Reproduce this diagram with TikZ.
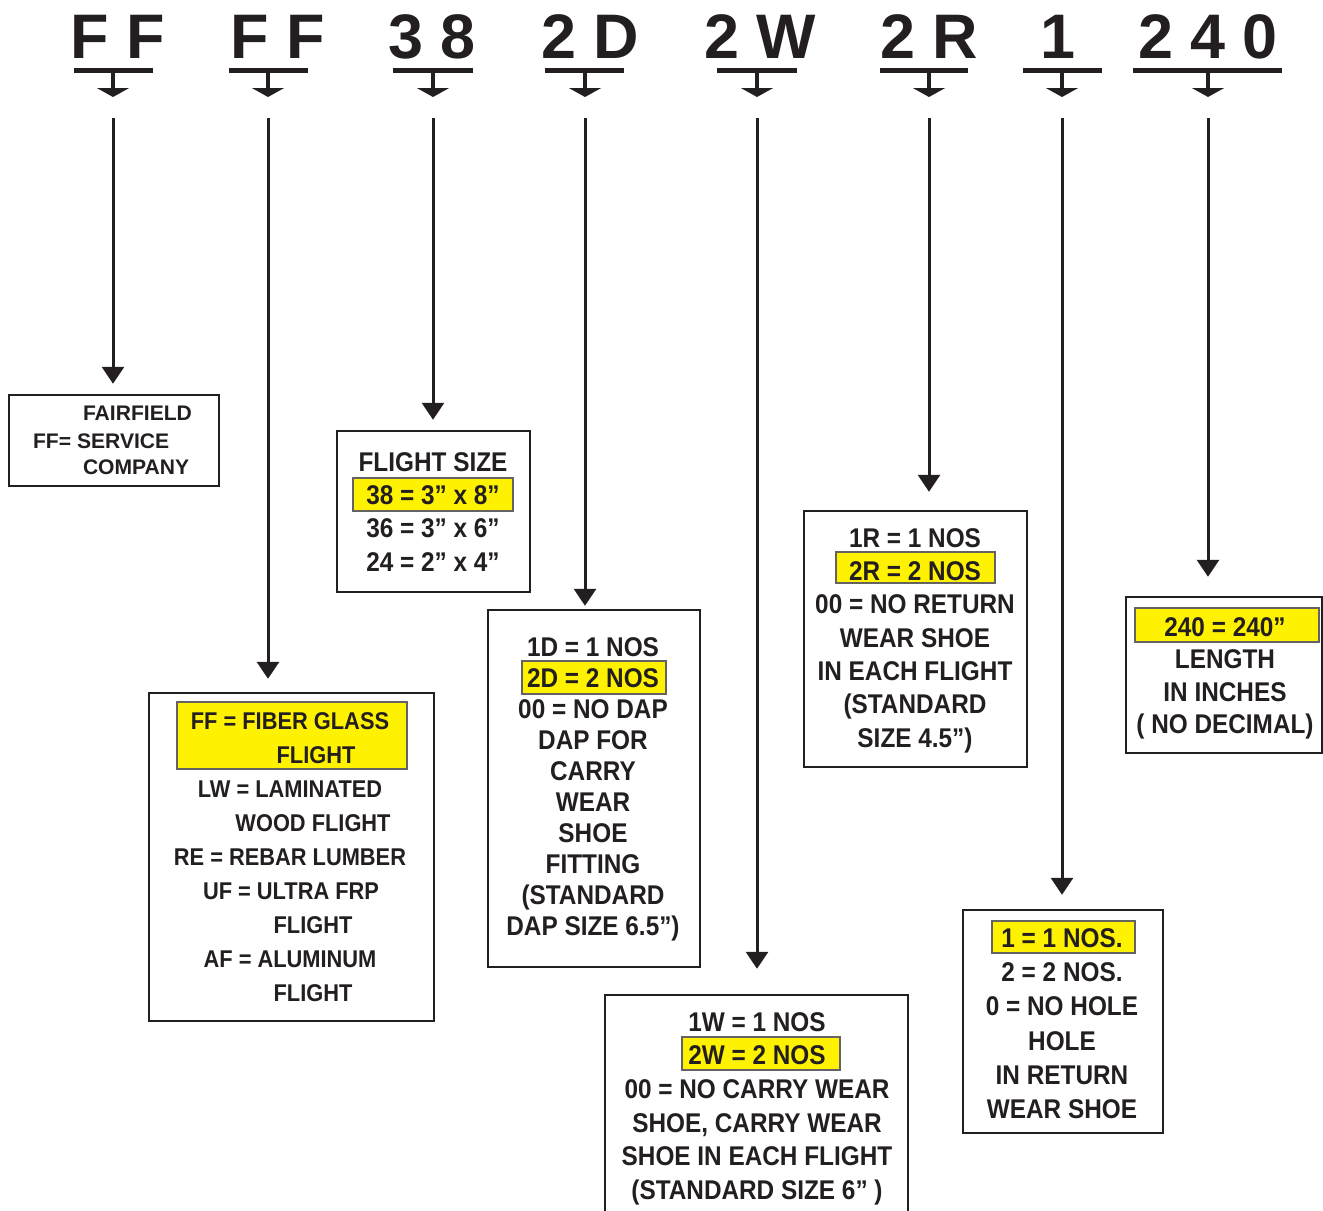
\documentclass[tikz,border=0pt]{standalone}
\usepackage{fontspec}
\usetikzlibrary{arrows.meta, positioning}
\newfontfamily\codefont{Liberation Sans}
\newfontfamily\narrowfont{Liberation Sans}[FakeStretch=0.9]
\definecolor{marca}{HTML}{FFF200}
\definecolor{tinta}{HTML}{231F20}

\begin{document}
\begin{tikzpicture}[
            x=0.02cm, y=-0.02cm,
            % Letras do código no topo
            code/.style={
                font=\codefont\bfseries\fontsize{35.8}{40}\selectfont,
                text=tinta,
                inner sep=0pt,
                anchor=base
            },
            % Traço sob cada grupo e seta curta
            bar/.style={draw=tinta, line width=0.1cm},
            tee/.style={
                draw=tinta,
                line width=0.07cm,
                -{Triangle[width=0.64cm, length=0.18cm]}
            },
            % Setas longas até as caixas
            signal/.style={
                draw=tinta,
                line width=0.06cm,
                -{Triangle[width=0.44cm, length=0.34cm]}
            },
            % Caixas de legenda
            block/.style={
                draw=tinta,
                fill=white,
                rectangle,
                line width=0.05cm,
                inner sep=0pt
            },
            % Linhas de texto
            txt/.style={
                font=\narrowfont\bfseries\fontsize{15.4}{18}\selectfont,
                text=tinta,
                inner sep=0pt,
                outer sep=0pt,
                text height=11pt,
                text depth=3pt
            },
            txtff/.style={txt, font=\narrowfont\bfseries\fontsize{13.8}{16}\selectfont},
            txtsm/.style={txt, font=\codefont\bfseries\fontsize{12}{14}\selectfont},
            % Faixa amarela da opção escolhida
            hilite/.style={fill=marca, draw=tinta!70, line width=0.6pt}
        ]

            \useasboundingbox (0,0) rectangle (1323,1211);
            \clip (0,0) rectangle (1323,1211);

            % Caixas
            \node [block, minimum width=4.2cm, minimum height=1.82cm] (bCo) at (114,440.5) {};
            \node [block, minimum width=5.7cm, minimum height=6.56cm] (bType) at (291.5,857) {};
            \node [block, minimum width=3.86cm, minimum height=3.22cm] (bSize) at (433.5,511.5) {};
            \node [block, minimum width=4.24cm, minimum height=7.14cm] (bDap) at (594,788.5) {};
            \node [block, minimum width=6.06cm, minimum height=4.9cm] (bWear) at (756.5,1117.5) {};
            \node [block, minimum width=4.46cm, minimum height=5.12cm] (bRet) at (915.5,639) {};
            \node [block, minimum width=4cm, minimum height=4.46cm] (bHole) at (1063,1021.5) {};
            \node [block, minimum width=3.92cm, minimum height=3.12cm] (bLen) at (1224,675) {};

            % Faixas amarelas
            \draw [hilite] (177,702) rectangle (407,769);
            \draw [hilite] (353,478) rectangle (513,511);
            \draw [hilite] (522,661) rectangle (666,694);
            \draw [hilite] (682,1037) rectangle (840,1070);
            \draw [hilite] (836,552) rectangle (995,583);
            \draw [hilite] (992,921) rectangle (1135,953);
            \draw [hilite] (1135,608) rectangle (1319,642);

            % Empresa
            \node [txtsm, anchor=base west] (co1) at (83,420.5) {FAIRFIELD};
            \node [txtsm, anchor=base west] (co2) at (33,448) {FF=\hspace{0.12cm}SERVICE};
            \node [txtsm, anchor=base west] (co3) at (83,474.5) {COMPANY};

            % Material
            \node [txtff, anchor=base] (ty1) at (290,729) {FF = FIBER GLASS};
            \node [txtff, anchor=base] (ty2) at (316,763) {FLIGHT};
            \node [txtff, anchor=base] (ty3) at (290,797) {LW = LAMINATED};
            \node [txtff, anchor=base] (ty4) at (313,831) {WOOD FLIGHT};
            \node [txtff, anchor=base] (ty5) at (290,865) {RE = REBAR LUMBER};
            \node [txtff, anchor=base] (ty6) at (291,899) {UF = ULTRA FRP};
            \node [txtff, anchor=base] (ty7) at (313,933) {FLIGHT};
            \node [txtff, anchor=base] (ty8) at (290,967) {AF = ALUMINUM};
            \node [txtff, anchor=base] (ty9) at (313,1001) {FLIGHT};

            % Tamanho
            \node [txt, anchor=base] (sz1) at (433,471) {FLIGHT SIZE};
            \node [txt, below=0.175cm of sz1] (sz2) {38 = 3” x 8”};
            \node [txt, below=0.175cm of sz2] (sz3) {36 = 3” x 6”};
            \node [txt, below=0.175cm of sz3] (sz4) {24 = 2” x 4”};

            % Dap
            \node [txt, anchor=base] (dp1) at (593,656) {1D = 1 NOS};
            \node [txt, below=0.13cm of dp1] (dp2) {2D = 2 NOS};
            \node [txt, below=0.13cm of dp2] (dp3) {00 = NO DAP};
            \node [txt, below=0.13cm of dp3] (dp4) {DAP FOR};
            \node [txt, below=0.13cm of dp4] (dp5) {CARRY};
            \node [txt, below=0.13cm of dp5] (dp6) {WEAR};
            \node [txt, below=0.13cm of dp6] (dp7) {SHOE};
            \node [txt, below=0.13cm of dp7] (dp8) {FITTING};
            \node [txt, below=0.13cm of dp8] (dp9) {(STANDARD};
            \node [txt, below=0.13cm of dp9] (dp10) {DAP SIZE 6.5”)};

            % Sapata de arraste
            \node [txt, anchor=base] (we1) at (757,1031) {1W = 1 NOS};
            \node [txt, below=0.182cm of we1] (we2) {2W = 2 NOS};
            \node [txt, below=0.182cm of we2] (we3) {00 = NO CARRY WEAR};
            \node [txt, below=0.182cm of we3] (we4) {SHOE, CARRY WEAR};
            \node [txt, below=0.182cm of we4] (we5) {SHOE IN EACH FLIGHT};
            \node [txt, below=0.182cm of we5] (we6) {(STANDARD SIZE 6” )};

            % Sapata de retorno
            \node [txt, anchor=base] (re1) at (915,547) {1R = 1 NOS};
            \node [txt, below=0.175cm of re1] (re2) {2R = 2 NOS};
            \node [txt, below=0.175cm of re2] (re3) {00 = NO RETURN};
            \node [txt, below=0.175cm of re3] (re4) {WEAR SHOE};
            \node [txt, below=0.175cm of re4] (re5) {IN EACH FLIGHT};
            \node [txt, below=0.175cm of re5] (re6) {(STANDARD};
            \node [txt, below=0.175cm of re6] (re7) {SIZE 4.5”)};

            % Furos
            \node [txt, anchor=base] (ho1) at (1062,947) {1 = 1 NOS.};
            \node [txt, below=0.196cm of ho1] (ho2) {2 = 2 NOS.};
            \node [txt, below=0.196cm of ho2] (ho3) {0 = NO HOLE};
            \node [txt, below=0.196cm of ho3] (ho4) {HOLE};
            \node [txt, below=0.196cm of ho4] (ho5) {IN RETURN};
            \node [txt, below=0.196cm of ho5] (ho6) {WEAR SHOE};

            % Comprimento
            \node [txt, anchor=base] (le1) at (1225,636) {240 = 240”};
            \node [txt, below=0.16cm of le1] (le2) {LENGTH};
            \node [txt, below=0.16cm of le2] (le3) {IN INCHES};
            \node [txt, below=0.16cm of le3] (le4) {( NO DECIMAL)};

            % Código
            \node [code] (hA) at (118,58) {F F};
            \node [code] (hB) at (278,58) {F F};
            \node [code] (hC) at (432,58) {3 8};
            \node [code] (hD) at (590,58) {2 D};
            \node [code] (hE) at (760,58) {2 W};
            \node [code] (hF) at (929,58) {2 R};
            \node [code] (hG) at (1058,58) {1};
            \node [code] (hH) at (1208,58) {2 4 0};

            \draw [bar] (74,70) -- (153,70);
            \draw [bar] (229,70) -- (308,70);
            \draw [bar] (393,70) -- (473,70);
            \draw [bar] (545,70) -- (624,70);
            \draw [bar] (717,70) -- (797,70);
            \draw [bar] (880,70) -- (968,70);
            \draw [bar] (1023,70) -- (1102,70);
            \draw [bar] (1133,70) -- (1282,70);

            \draw [tee] (113,70) -- (113,97);
            \draw [tee] (268,70) -- (268,97);
            \draw [tee] (433,70) -- (433,97);
            \draw [tee] (585,70) -- (585,97);
            \draw [tee] (757,70) -- (757,97);
            \draw [tee] (929,70) -- (929,97);
            \draw [tee] (1062,70) -- (1062,97);
            \draw [tee] (1208,70) -- (1208,97);

            % Pontos de partida das setas
            \coordinate (aA) at (113,118);
            \coordinate (aB) at (268,118);
            \coordinate (aC) at (433,118);
            \coordinate (aD) at (585,118);
            \coordinate (aE) at (757,118);
            \coordinate (aF) at (929,118);
            \coordinate (aG) at (1062,118);
            \coordinate (aH) at (1208,118);

            % Setas
            \draw [signal, shorten >=0.2cm] (aA) -- (aA |- bCo.north);
            \draw [signal, shorten >=0.26cm] (aB) -- (aB |- bType.north);
            \draw [signal, shorten >=0.2cm] (aC) -- (aC |- bSize.north);
            \draw [signal, shorten >=0.06cm] (aD) -- (aD |- bDap.north);
            \draw [signal, shorten >=0.5cm] (aE) -- (aE |- bWear.north);
            \draw [signal, shorten >=0.36cm] (aF) -- (aF |- bRet.north);
            \draw [signal, shorten >=0.28cm] (aG) -- (aG |- bHole.north);
            \draw [signal, shorten >=0.38cm] (aH) -- (aH |- bLen.north);

        \end{tikzpicture}
\end{document}
